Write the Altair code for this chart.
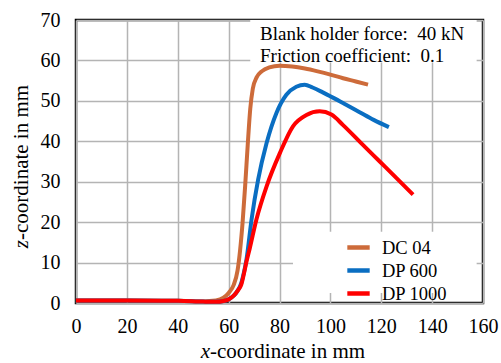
import altair as alt
import pandas as pd

# Punch profiles: x-coordinate (mm) and z-coordinate (mm) per material
dc04_x = [0, 20, 40, 50, 55, 58, 60, 62, 63.5, 64.5, 65.5, 66.5, 67.5, 68.5, 69.5,
          71, 73, 76, 80, 85, 90, 95, 100, 105, 110, 114.8]
dc04_z = [0.6, 0.6, 0.55, 0.4, 0.6, 1.3, 2.5, 4.5, 8, 13, 20, 29, 39, 48, 53,
          55.8, 57.3, 58.3, 58.7, 58.5, 58.0, 57.3, 56.5, 55.6, 54.8, 54.0]

dp600_x = [0, 20, 40, 50, 55, 58, 60, 62, 63.5, 65, 66, 67, 69, 71.6, 74.9,
           78.8, 82.7, 86.6, 89.9, 93, 97, 101, 106, 111.5, 117, 123]
dp600_z = [0.6, 0.6, 0.55, 0.35, 0.3, 0.5, 0.9, 1.8, 3.0, 5, 7.5, 10.7, 20.6, 30.5, 39.5,
           47, 51.5, 53.5, 54, 53.3, 52.1, 50.8, 49.1, 47.2, 45.3, 43.5]

dp1000_x = [0, 20, 40, 50, 55, 58, 60, 62, 63.5, 65, 66, 67, 68.3, 70.9, 74.9,
            80.1, 85.3, 90.6, 95.8, 100.4, 105, 112, 119.4, 126, 132.5]
dp1000_z = [0.6, 0.6, 0.55, 0.35, 0.3, 0.5, 0.9, 1.8, 3.0, 4.6, 7.2, 10.2, 13.5, 20.6, 28.8,
            37, 43.7, 46.5, 47.4, 46.6, 44.0, 39.6, 35.0, 30.9, 26.8]

materials = ["DC 04", "DP 600", "DP 1000"]
colors = ["#CD6B3A", "#0A6EC2", "#FF0000"]

x_ticks = [0, 20, 40, 60, 80, 100, 120, 140, 160]
z_ticks = [0, 10, 20, 30, 40, 50, 60, 70]

notes = ["Blank holder force:\u00a0 40 kN", "Friction coefficient:\u00a0 0.1"]

# white panels behind the annotation and the legend (data units)
panel_x = [68.5, 85.3]
panel_x2 = [157.5, 157.5]
panel_z = [59.5, 2.5]
panel_z2 = [70, 17.6]

FONT = "Liberation Serif"

frames = []
for name, xs, zs in [("DC 04", dc04_x, dc04_z), ("DP 600", dp600_x, dp600_z),
                     ("DP 1000", dp1000_x, dp1000_z)]:
    frames.append(pd.DataFrame({"x": xs, "z": zs, "material": name, "order": range(len(xs))}))
curves = pd.concat(frames, ignore_index=True)

panels = pd.DataFrame({"x": panel_x, "x2": panel_x2, "z": panel_z, "z2": panel_z2})

x_scale = alt.Scale(domain=[0, 160], nice=False)
z_scale = alt.Scale(domain=[0, 70], nice=False)

x_axis = alt.Axis(values=x_ticks, title=None, domain=False, ticks=False,
                  labelFont=FONT, labelFontSize=20, labelColor="black",
                  labelPadding=13, labelFlush=False, labelOverlap=False,
                  gridColor="#b4b4b4", gridWidth=1.5)
z_axis = alt.Axis(values=z_ticks, title=None, domain=False, ticks=False,
                  labelFont=FONT, labelFontSize=20, labelColor="black",
                  labelPadding=16, labelFlush=False, labelOverlap=False,
                  gridColor="#b4b4b4", gridWidth=1.5)

background = alt.Chart(panels).mark_rect(color="white").encode(
    x=alt.X("x:Q", scale=x_scale, axis=x_axis),
    x2="x2:Q",
    y=alt.Y("z:Q", scale=z_scale, axis=z_axis),
    y2="z2:Q",
)

lines = alt.Chart(curves).mark_line(strokeWidth=4, interpolate="monotone").encode(
    x=alt.X("x:Q", scale=x_scale),
    y=alt.Y("z:Q", scale=z_scale),
    order="order:Q",
    color=alt.Color(
        "material:N",
        scale=alt.Scale(domain=materials, range=colors),
        legend=alt.Legend(
            title=None, orient="none", legendX=269, legendY=214,
            symbolType="stroke", symbolStrokeWidth=4.5, symbolSize=500,
            labelFont=FONT, labelFontSize=18.5, labelColor="black",
            labelOffset=10, rowPadding=-1, padding=0,
        ),
    ),
)

note = alt.Chart(pd.DataFrame({"t": [0]})).mark_text(
    font=FONT, fontSize=19, align="left", baseline="alphabetic", lineHeight=22, color="black"
).encode(x=alt.value(184), y=alt.value(19.5), text=alt.value(notes))

# axis titles with an italic coordinate letter
title_style = dict(font=FONT, fontSize=21, baseline="alphabetic", color="black")
x_title_var = alt.Chart(pd.DataFrame({"t": [0]})).mark_text(
    align="right", fontStyle="italic", **title_style
).encode(x=alt.value(134), y=alt.value(338), text=alt.value("x"))
x_title_rest = alt.Chart(pd.DataFrame({"t": [0]})).mark_text(
    align="left", **title_style
).encode(x=alt.value(134), y=alt.value(338), text=alt.value("-coordinate in mm"))
z_title_var = alt.Chart(pd.DataFrame({"t": [0]})).mark_text(
    align="right", fontStyle="italic", angle=270, **title_style
).encode(x=alt.value(-48), y=alt.value(220), text=alt.value("z"))
z_title_rest = alt.Chart(pd.DataFrame({"t": [0]})).mark_text(
    align="left", angle=270, **title_style
).encode(x=alt.value(-48), y=alt.value(220), text=alt.value("-coordinate in mm"))

chart = alt.layer(
    background, lines, note, x_title_var, x_title_rest, z_title_var, z_title_rest
).properties(
    width=407, height=283,
    autosize=alt.AutoSizeParams(type="none"),
    padding={"left": 76, "top": 20, "right": 18, "bottom": 60},
    background="white",
).configure_view(stroke="black", strokeWidth=2.5)

chart.save("out.html", embed_options={"renderer": "svg", "actions": False})
